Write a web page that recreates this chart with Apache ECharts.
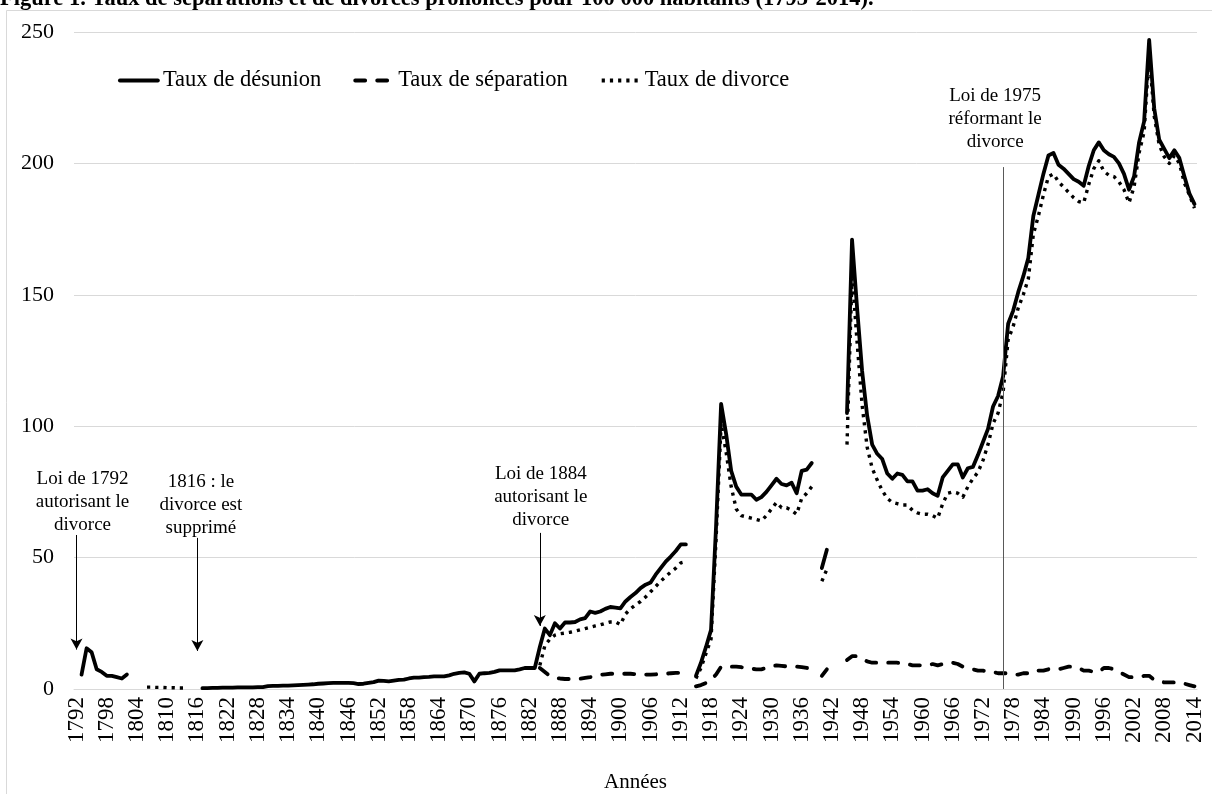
<!DOCTYPE html>
<html lang="fr">
<head>
<meta charset="utf-8">
<title>Taux de séparations et de divorces</title>
<script src="https://cdn.jsdelivr.net/npm/echarts@6/dist/echarts.min.js"></script>
<style>
    html, body { margin: 0; padding: 0; background: #fff; }
    #chart { width: 1212px; height: 794px; }
</style>
</head>
<body>
<div id="chart"></div>
<script>
const SERIF = '"Liberation Serif", "Times New Roman", serif'

// années
const FIRST_YEAR = 1792
const LAST_YEAR = 2014
const years = []
for (let y = FIRST_YEAR; y <= LAST_YEAR; y++) years.push(String(y))

// taux de désunion (pour 100 000 habitants), par période
const desunion1793 = [5.5, 15.5, 14, 7.5, 6.5, 5, 5, 4.5, 4, 5.5]
const desunion1817 = [
    0.3, 0.3, 0.4, 0.4, 0.5, 0.5, 0.5, 0.6, 0.6, 0.6,
    0.6, 0.7, 0.7, 1.1, 1.2, 1.2, 1.3, 1.3, 1.4, 1.5,
    1.6, 1.7, 1.8, 2.0, 2.1, 2.2, 2.3, 2.3, 2.3, 2.3,
    2.2, 1.9, 2.0, 2.3, 2.6, 3.2, 3.1, 2.9, 3.2, 3.5,
    3.6, 4.0, 4.3, 4.3, 4.5, 4.6, 4.8, 4.8, 4.8, 5.2,
    5.8, 6.1, 6.3, 5.8, 2.9, 5.8, 6.0, 6.1, 6.5, 7.1,
    7.1, 7.1, 7.1, 7.5, 8.0, 8.0, 8.0
]
const desunion1884 = [
    16, 23, 20.5, 25, 23, 25.3, 25.3, 25.5, 26.5, 27,
    29.5, 29, 29.5, 30.5, 31.2, 31, 30.7, 33.3, 35, 36.5,
    38.4, 39.7, 40.5, 43.5, 46, 48.5, 50.4, 52.5, 55, 55
]
const desunion1915 = [
    5, 10, 16, 22.5, 62, 108.5, 97, 83, 77, 74,
    74, 74, 72, 73, 75, 77.5, 80, 78, 77.5, 78.5,
    74.5, 83, 83.5, 86
]
const desunion1940 = [46, 53]
const desunion1945 = [
    105, 171, 145, 121, 104, 93, 89.5, 87.5, 82, 80,
    82, 81.5, 79, 79, 75.5, 75.5, 76, 74.5, 73.5, 80.5,
    83, 85.5, 85.5, 80.5, 84, 84.5, 89, 94, 99, 107.5,
    111.5, 119, 139, 144, 151, 157, 164, 180, 188, 196,
    203, 204, 199.5, 198, 196, 194, 193, 191.5, 199, 205,
    208, 205, 203.5, 202.5, 200, 196, 190, 195, 208, 216,
    247, 221, 209, 205.5, 202, 205, 202, 195, 188.5, 184.5
]

// taux de séparation
const separation1884 = [
    8, 6.5, 5, 4.3, 4, 3.8, 3.8, 3.8, 3.9, 4.2,
    4.5, 5, 5.4, 5.6, 5.8, 5.8, 5.8, 5.8, 5.8, 5.6,
    5.5, 5.5, 5.5, 5.6, 5.7, 5.8, 6, 6.1, 6.2, 6.2
]
const separation1915 = [
    1, 1.5, 2.3, 3.5, 5.5, 8.5, 8.5, 8.5, 8.5, 8.3,
    8, 7.7, 7.5, 7.5, 8, 8.5, 9, 8.8, 8.6, 8.6,
    8.5, 8.3, 8, 7.8
]
const separation1940 = [5, 7.5]
const separation1945 = [
    11, 12.5, 12.5, 11.5, 10.5, 10, 10, 10, 10, 10,
    10, 9.5, 9.5, 9, 9, 9, 9, 9.5, 9, 9.5,
    10, 10, 9.5, 8.5, 8, 7.5, 7, 7, 6.5, 6.5,
    6, 6, 6, 5.5, 5.5, 6, 6, 7, 7, 7,
    7.5, 7.5, 7.5, 8, 8.5, 8.5, 8, 7, 7, 6.5,
    6.5, 8, 8, 7.5, 6.5, 5.5, 4.5, 4.5, 4.5, 5,
    5, 3.5, 3, 2.5, 2.5, 2.5, 2.5, 2, 1.5, 1
]

// taux de divorce
const divorce1806 = [0.7, 0.7, 0.6, 0.6, 0.5, 0.5, 0.4, 0.4, 0.4]
const divorce1884 = [
    9, 16.5, 19, 20.5, 21, 21.3, 21.6, 22, 22.5, 23,
    23.5, 24, 24.4, 25, 25.5, 25.5, 24.5, 28.5, 30.5, 32,
    33.3, 35, 37, 39, 41, 42.8, 44.5, 46, 48, 48.5
]
const divorce1915 = [
    4, 8, 13.5, 19, 57, 101, 90, 77, 68.5, 66,
    65.5, 65, 64.5, 64, 66, 68.5, 71, 69, 69, 68,
    66.5, 72.5, 74.5, 77
]
const divorce1940 = [41, 45.5]
const divorce1945 = [
    93, 158, 132, 108, 92, 84, 79.5, 75.5, 72.5, 71,
    70.5, 70, 70, 68, 67, 66.5, 66.5, 66, 65, 70.5,
    74.5, 75, 74.5, 73, 77, 80, 82.5, 87, 93, 101,
    105, 113, 133, 138, 145, 150, 156, 173, 180, 188,
    195, 196, 193, 191, 189, 187, 185.5, 185, 192, 198,
    201, 197, 195.5, 195, 193, 190, 185, 191, 204, 212,
    242, 218, 207, 202.5, 200, 203, 200, 192.5, 188, 183
]

// annotations : [année, texte, début, fin, distance]
const annotations = [
    ['1792', 'Loi de 1792\nautorisant le\ndivorce', 58.6, 15, -2],
    ['1816', '1816 : le\ndivorce est\nsupprimé', 57.5, 14.5, -2],
    ['1884', 'Loi de 1884\nautorisant le\ndivorce', 59.4, 24, 1]
]
const reform1975 = ['1976', 'Loi de 1975\nréformant le\ndivorce', 198.6, 0]

// remplit une série complète (null hors période)
function fill(segments) {
    const out = years.map(() => null)
    segments.forEach(([start, values]) => {
        values.forEach((v, i) => { out[start - FIRST_YEAR + i] = v })
    })
    return out
}

const desunion = fill([[1793, desunion1793], [1817, desunion1817], [1884, desunion1884],
    [1915, desunion1915], [1940, desunion1940], [1945, desunion1945]])
const separation = fill([[1884, separation1884], [1915, separation1915],
    [1940, separation1940], [1945, separation1945]])
const divorce = fill([[1806, divorce1806], [1884, divorce1884], [1915, divorce1915],
    [1940, divorce1940], [1945, divorce1945]])

const labelPadding = { '1792': [0, 0, 0, 12], '1816': [0, 0, 0, 7], '1884': [0, 0, 0, 2] }

const markLineData = annotations.map(([year, text, from, to, dist]) => [
    {
        coord: [year, from],
        label: { formatter: text, padding: labelPadding[year], distance: dist }
    },
    { coord: [year, to] }
])
markLineData.push([
    {
        coord: [reform1975[0], reform1975[2]],
        lineStyle: { color: '#595959', width: 1 },
        label: { formatter: reform1975[1], padding: [0, 16, 0, 0], distance: 14 }
    },
    { coord: [reform1975[0], reform1975[3]], symbol: 'none' }
])

const chart = echarts.init(document.getElementById('chart'), null, { renderer: 'canvas' })

const option = {
    animation: false,
    backgroundColor: '#fff',
    title: {
        text: 'Figure 1. Taux de séparations et de divorces prononcés pour 100 000 habitants (1793-2014).',
        left: 0,
        top: -12,
        padding: 0,
        textStyle: { fontFamily: SERIF, fontSize: 22.5, fontWeight: 'bold', color: '#000' }
    },
    graphic: [
        {
            type: 'rect',
            silent: true,
            z: -10,
            shape: { x: 6.5, y: 10.5, width: 1300, height: 900 },
            style: { fill: 'none', stroke: '#d9d9d9', lineWidth: 1 }
        }
    ],
    legend: {
        left: 113,
        top: 64,
        itemWidth: 38,
        itemHeight: 14,
        itemGap: 32,
        selectedMode: false,
        textStyle: { fontFamily: SERIF, fontSize: 22.5, color: '#000' },
        itemStyle: { opacity: 0 },
        lineStyle: { width: 3.8 }
    },
    grid: { left: 74, right: 15, top: 32, bottom: 105, outerBoundsMode: 'none' },
    xAxis: {
        type: 'category',
        data: years,
        boundaryGap: true,
        axisLine: { lineStyle: { color: '#d9d9d9', width: 1 } },
        axisTick: { show: false },
        axisLabel: {
            interval: 5,
            rotate: 90,
            margin: 8,
            fontFamily: SERIF,
            fontSize: 23,
            color: '#000'
        },
        name: 'Années',
        nameLocation: 'middle',
        nameGap: 83,
        nameTextStyle: { fontFamily: SERIF, fontSize: 21, color: '#000' }
    },
    yAxis: {
        type: 'value',
        min: 0,
        max: 250,
        interval: 50,
        axisLine: { show: false },
        axisTick: { show: false },
        splitLine: { lineStyle: { color: '#d9d9d9', width: 1 } },
        axisLabel: { fontFamily: SERIF, fontSize: 22, color: '#000', margin: 20 }
    },
    series: [
        {
            name: 'Taux de désunion',
            type: 'line',
            data: desunion,
            symbol: 'none',
            silent: true,
            emphasis: { disabled: true },
            itemStyle: { color: '#000' },
            lineStyle: { color: '#000', width: 3.8, cap: 'round', join: 'round' },
            markLine: {
                silent: true,
                symbol: ['none', 'arrow'],
                symbolSize: [9, 11],
                emphasis: { disabled: true },
                lineStyle: { color: '#000', width: 1, type: 'solid' },
                label: {
                    show: true,
                    position: 'start',
                    fontFamily: SERIF,
                    fontSize: 19,
                    lineHeight: 23,
                    color: '#000'
                },
                data: markLineData
            }
        },
        {
            name: 'Taux de séparation',
            type: 'line',
            data: separation,
            symbol: 'none',
            silent: true,
            emphasis: { disabled: true },
            itemStyle: { color: '#000' },
            lineStyle: { color: '#000', width: 3.8, type: [10, 12], cap: 'round', join: 'round' }
        },
        {
            name: 'Taux de divorce',
            type: 'line',
            data: divorce,
            symbol: 'none',
            silent: true,
            emphasis: { disabled: true },
            itemStyle: { color: '#000' },
            lineStyle: { color: '#000', width: 3.4, type: [3.2, 5], join: 'round' }
        }
    ]
}

chart.setOption(option)
</script>
</body>
</html>
